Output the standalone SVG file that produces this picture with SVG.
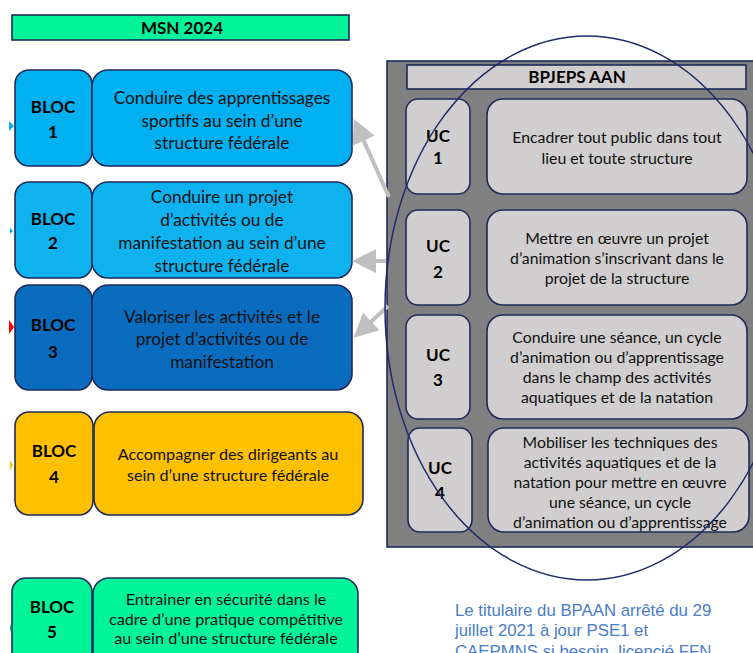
<svg xmlns="http://www.w3.org/2000/svg" width="753" height="653" viewBox="0 0 753 653">
<style>
.bx{stroke:#1f2a5a;stroke-width:1.6}
.t{font-family:Lato,"Open Sans",sans-serif;font-size:17.3px;fill:#111;text-anchor:middle}
.t2{font-family:Lato,"Open Sans",sans-serif;font-size:16.2px;fill:#111;text-anchor:middle}
.b{font-family:Lato,"Open Sans",sans-serif;font-size:17px;font-weight:bold;fill:#000;text-anchor:middle}
.u{font-family:Lato,"Open Sans",sans-serif;font-size:15.8px;fill:#111;text-anchor:middle}
.uc{fill:#d0cece;stroke:#1f2a5a;stroke-width:1.6}
.note{font-family:"Liberation Sans",Arial,sans-serif;font-size:16.8px;fill:#4a7cc8}
</style>
<defs>
<marker id="ah" markerWidth="6" markerHeight="6" refX="3.5" refY="3" orient="auto" markerUnits="strokeWidth">
<path d="M0,0 L6,3 L0,6 Z" fill="#bfbfbf"/>
</marker>
</defs>
<rect width="753" height="653" fill="#fff"/>
<g id="msn-header">
<rect x="12" y="15" width="337" height="25" fill="#00f59b" class="bx"/>
<text x="182" y="34" class="b">MSN 2024</text>
</g>
<g id="edge-ticks">
<path d="M9,121 L14,126 L9,131 Z" fill="#00b0f0"/>
<path d="M10,228 L13,231 L10,234 Z" fill="#00b0f0"/>
<path d="M9,320 L14,327 L9,334 Z" fill="#ff0000"/>
<path d="M10,460 L13,465 L10,470 Z" fill="#ffc000"/>
<path d="M10,624 L12,628 L10,632 Z" fill="#00d070"/>
</g>
<g id="bloc1">
<rect x="15" y="70" width="77" height="96" rx="14" fill="#00b0f0" class="bx"/>
<rect x="92" y="70" width="260" height="96" rx="16" fill="#00b0f0" class="bx"/>
<text x="53" y="113" class="b">BLOC</text><text x="53" y="138" class="b">1</text>
<text x="222" y="104" class="t">Conduire des apprentissages</text>
<text x="222" y="127" class="t">sportifs au sein d’une</text>
<text x="222" y="149" class="t">structure fédérale</text>
</g>
<g id="bloc2">
<rect x="15" y="182" width="77" height="96" rx="14" fill="#0db2ee" class="bx"/>
<rect x="92" y="182" width="260" height="96" rx="16" fill="#0db2ee" class="bx"/>
<text x="53" y="225" class="b">BLOC</text><text x="53" y="249" class="b">2</text>
<text x="222" y="203" class="t">Conduire un projet</text>
<text x="222" y="226" class="t">d’activités ou de</text>
<text x="222" y="249" class="t">manifestation au sein d’une</text>
<text x="222" y="272" class="t">structure fédérale</text>
</g>
<g id="bloc3">
<rect x="15" y="285" width="77" height="105" rx="14" fill="#0a6cbf" class="bx"/>
<rect x="92" y="285" width="260" height="105" rx="16" fill="#0a6cbf" class="bx"/>
<text x="53" y="331" class="b">BLOC</text><text x="53" y="358" class="b">3</text>
<text x="222" y="323" class="t">Valoriser les activités et le</text>
<text x="222" y="345" class="t">projet d’activités ou de</text>
<text x="222" y="368" class="t">manifestation</text>
</g>
<g id="bloc4">
<rect x="15" y="412" width="78" height="103" rx="14" fill="#ffc000" class="bx"/>
<rect x="94" y="412" width="269" height="103" rx="16" fill="#ffc000" class="bx"/>
<text x="54" y="457" class="b">BLOC</text><text x="54" y="483" class="b">4</text>
<text x="228" y="460" class="t2">Accompagner des dirigeants  au</text>
<text x="228" y="481" class="t2">sein d’une structure fédérale</text>
</g>
<g id="bloc5">
<rect x="12" y="578" width="80" height="90" rx="14" fill="#00f59b" class="bx"/>
<rect x="93" y="578" width="265" height="90" rx="16" fill="#00f59b" class="bx"/>
<text x="52" y="613" class="b">BLOC</text><text x="52" y="638" class="b">5</text>
<text x="226" y="605" class="t2">Entrainer en sécurité dans le</text>
<text x="226" y="625" class="t2">cadre d’une pratique compétitive</text>
<text x="226" y="644" class="t2">au sein d’une structure fédérale</text>
</g>
<g id="bpjeps">
<rect x="387" y="61" width="380" height="486" fill="#808080" stroke="#1f2a5a" stroke-width="1.6"/>
<rect x="407" y="65" width="339" height="24" fill="#d0cece" stroke="#1f2a5a" stroke-width="1.6"/>
<text x="577" y="83" class="b">BPJEPS AAN</text>
</g>
<g id="uc1">
<rect x="406" y="99" width="64" height="95" rx="12" class="uc"/>
<rect x="487" y="99" width="260" height="95" rx="16" class="uc"/>
<text x="438" y="142" class="b">UC</text><text x="438" y="164" class="b">1</text>
<text x="617" y="143" class="u">Encadrer tout public dans tout</text>
<text x="617" y="164" class="u">lieu et toute structure</text>
</g>
<g id="uc2">
<rect x="406" y="210" width="64" height="95" rx="12" class="uc"/>
<rect x="487" y="210" width="260" height="95" rx="16" class="uc"/>
<text x="438" y="252" class="b">UC</text><text x="438" y="278" class="b">2</text>
<text x="617" y="244" class="u">Mettre en œuvre un projet</text>
<text x="617" y="264" class="u">d’animation s’inscrivant dans le</text>
<text x="617" y="284" class="u">projet de la structure</text>
</g>
<g id="uc3">
<rect x="406" y="315" width="64" height="104" rx="12" class="uc"/>
<rect x="487" y="315" width="260" height="104" rx="16" class="uc"/>
<text x="438" y="361" class="b">UC</text><text x="438" y="386" class="b">3</text>
<text x="617" y="343" class="u">Conduire une séance, un cycle</text>
<text x="617" y="363" class="u">d’animation ou d’apprentissage</text>
<text x="617" y="383" class="u">dans le champ des activités</text>
<text x="617" y="403" class="u">aquatiques et de la natation</text>
</g>
<g id="uc4">
<rect x="408" y="428" width="64" height="104" rx="12" class="uc"/>
<rect x="488" y="428" width="261" height="104" rx="16" class="uc"/>
<text x="440" y="474" class="b">UC</text><text x="440" y="499" class="b">4</text>
<text x="620" y="448" class="u">Mobiliser les techniques des</text>
<text x="620" y="468" class="u">activités aquatiques et de la</text>
<text x="620" y="488" class="u">natation pour mettre en œuvre</text>
<text x="620" y="508" class="u">une séance, un cycle</text>
<text x="620" y="528" class="u">d’animation ou d’apprentissage</text>
</g>
<g id="connectors" stroke="#bfbfbf" stroke-width="4" fill="none">
<line x1="389" y1="197" x2="358" y2="128" marker-end="url(#ah)"/>
<line x1="386" y1="261" x2="362" y2="261" marker-end="url(#ah)"/>
<line x1="388" y1="306" x2="361" y2="331" marker-end="url(#ah)"/>
</g>
<ellipse id="circle" cx="587" cy="308" rx="202" ry="272" fill="none" stroke="#1f2a6b" stroke-width="1.5"/>
<g id="note">
<text x="455" y="616" class="note">Le titulaire du BPAAN arrêté du 29</text>
<text x="455" y="636" class="note">juillet 2021 à jour PSE1 et</text>
<text x="455" y="657" class="note">CAEPMNS si besoin, licencié FFN</text>
</g>
</svg>
